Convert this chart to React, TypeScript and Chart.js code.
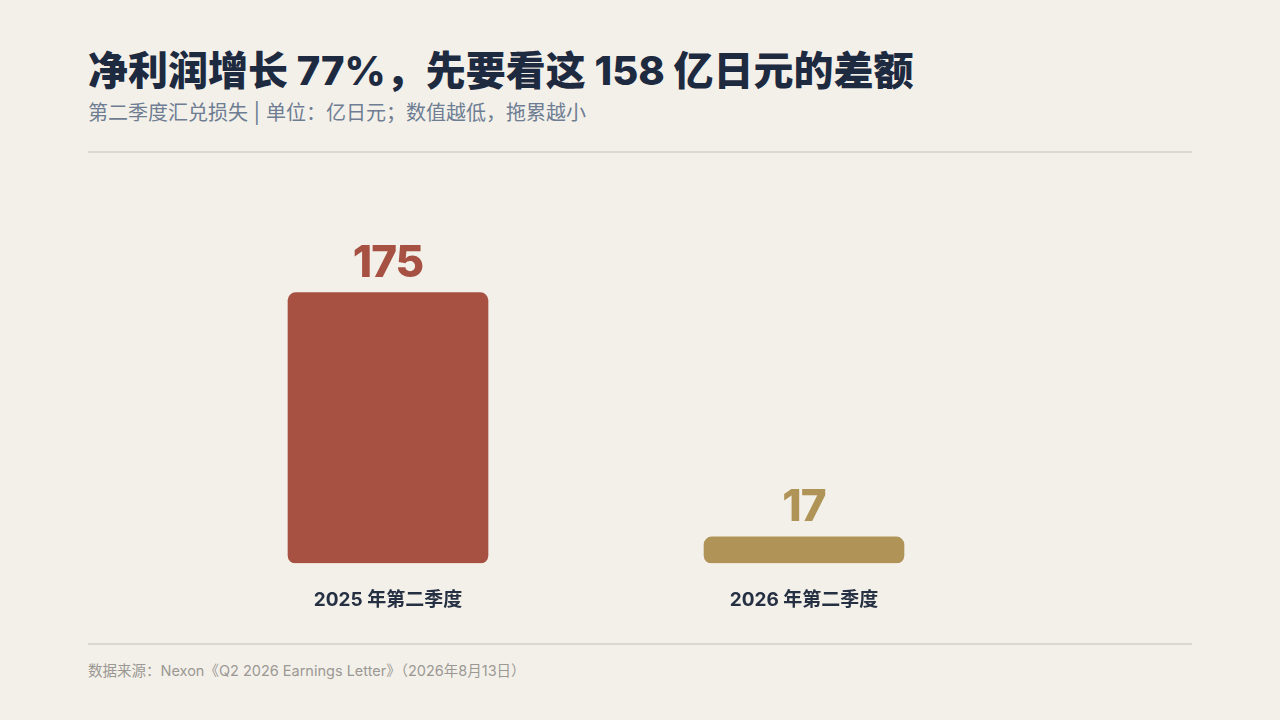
import React, { useEffect, useRef } from 'react';
import { Chart, registerables, Plugin } from 'chart.js';

Chart.register(...registerables);

const categories = ['2025 年第二季度', '2026 年第二季度'];
const fxLoss = [175, 17];
const barColors = ['#a65142', '#b09457'];
const yMax = 200;

const FONT = '"Inter", "Noto Sans CJK SC", "Noto Sans", sans-serif';

// draws the big number above each bar
const valueLabels: Plugin<'bar'> = {
  id: 'valueLabels',
  afterDatasetsDraw(chart) {
    const { ctx } = chart;
    const meta = chart.getDatasetMeta(0);
    ctx.save();
    ctx.font = `800 44px ${FONT}`;
    (ctx as any).letterSpacing = '-1px';
    ctx.textAlign = 'center';
    ctx.textBaseline = 'alphabetic';
    meta.data.forEach((bar: any, i: number) => {
      ctx.fillStyle = barColors[i];
      ctx.fillText(String(fxLoss[i]), bar.x, bar.y - 16);
    });
    ctx.restore();
  },
};

const App: React.FC = () => {
  const canvasRef = useRef<HTMLCanvasElement>(null);
  const chartRef = useRef<Chart | null>(null);

  useEffect(() => {
    document.body.style.margin = '0';
    if (!canvasRef.current) return;
    if (chartRef.current) chartRef.current.destroy();

    chartRef.current = new Chart(canvasRef.current, {
      type: 'bar',
      data: {
        labels: categories,
        datasets: [
          {
            data: fxLoss,
            backgroundColor: barColors,
            borderRadius: 8,
            borderSkipped: false,
            barThickness: 200,
          },
        ],
      },
      options: {
        animation: false,
        responsive: true,
        maintainAspectRatio: false,
        layout: { padding: { top: 60, left: 0, right: 0, bottom: 0 } },
        plugins: {
          legend: { display: false },
          tooltip: { enabled: false },
        },
        scales: {
          x: {
            grid: { display: false, drawTicks: false },
            border: { display: false },
            ticks: {
              color: '#263043',
              padding: 26,
              font: { family: FONT, size: 19, weight: 'bold' },
            },
          },
          y: {
            display: false,
            min: 0,
            max: yMax,
          },
        },
      },
      plugins: [valueLabels],
    });

    return () => {
      if (chartRef.current) {
        chartRef.current.destroy();
        chartRef.current = null;
      }
    };
  }, []);

  return (
    <div
      style={{
        position: 'fixed',
        left: 0,
        top: 0,
        width: 1280,
        height: 720,
        background: '#f3f0ea',
        fontFamily: FONT,
        overflow: 'hidden',
      }}
    >
      <div
        style={{
          position: 'absolute',
          left: 88,
          top: 46,
          fontSize: 40,
          fontWeight: 800,
          color: '#1d2a3f',
          whiteSpace: 'nowrap',
          lineHeight: '50px',
        }}
      >
        净利润增长 77%，先要看这 158 亿日元的差额
      </div>
      <div
        style={{
          position: 'absolute',
          left: 88,
          top: 100,
          fontSize: 20,
          color: '#6e7d92',
          whiteSpace: 'nowrap',
          lineHeight: '26px',
        }}
      >
        第二季度汇兑损失 | 单位：亿日元；数值越低，拖累越小
      </div>
      <div style={{ position: 'absolute', left: 88, top: 151, width: 1104, height: 2, background: '#dcd8d1' }} />

      <div style={{ position: 'absolute', left: 180, top: 194, width: 832, height: 444 }}>
        <canvas ref={canvasRef} />
      </div>

      <div style={{ position: 'absolute', left: 88, top: 643, width: 1104, height: 2, background: '#dcd8d1' }} />
      <div
        style={{
          position: 'absolute',
          left: 88,
          top: 661,
          fontSize: 14.5,
          color: '#9b9893',
          whiteSpace: 'nowrap',
          lineHeight: '20px',
        }}
      >
        数据来源：Nexon《Q2 2026 Earnings Letter》（2026年8月13日）
      </div>
    </div>
  );
};

export default App;
